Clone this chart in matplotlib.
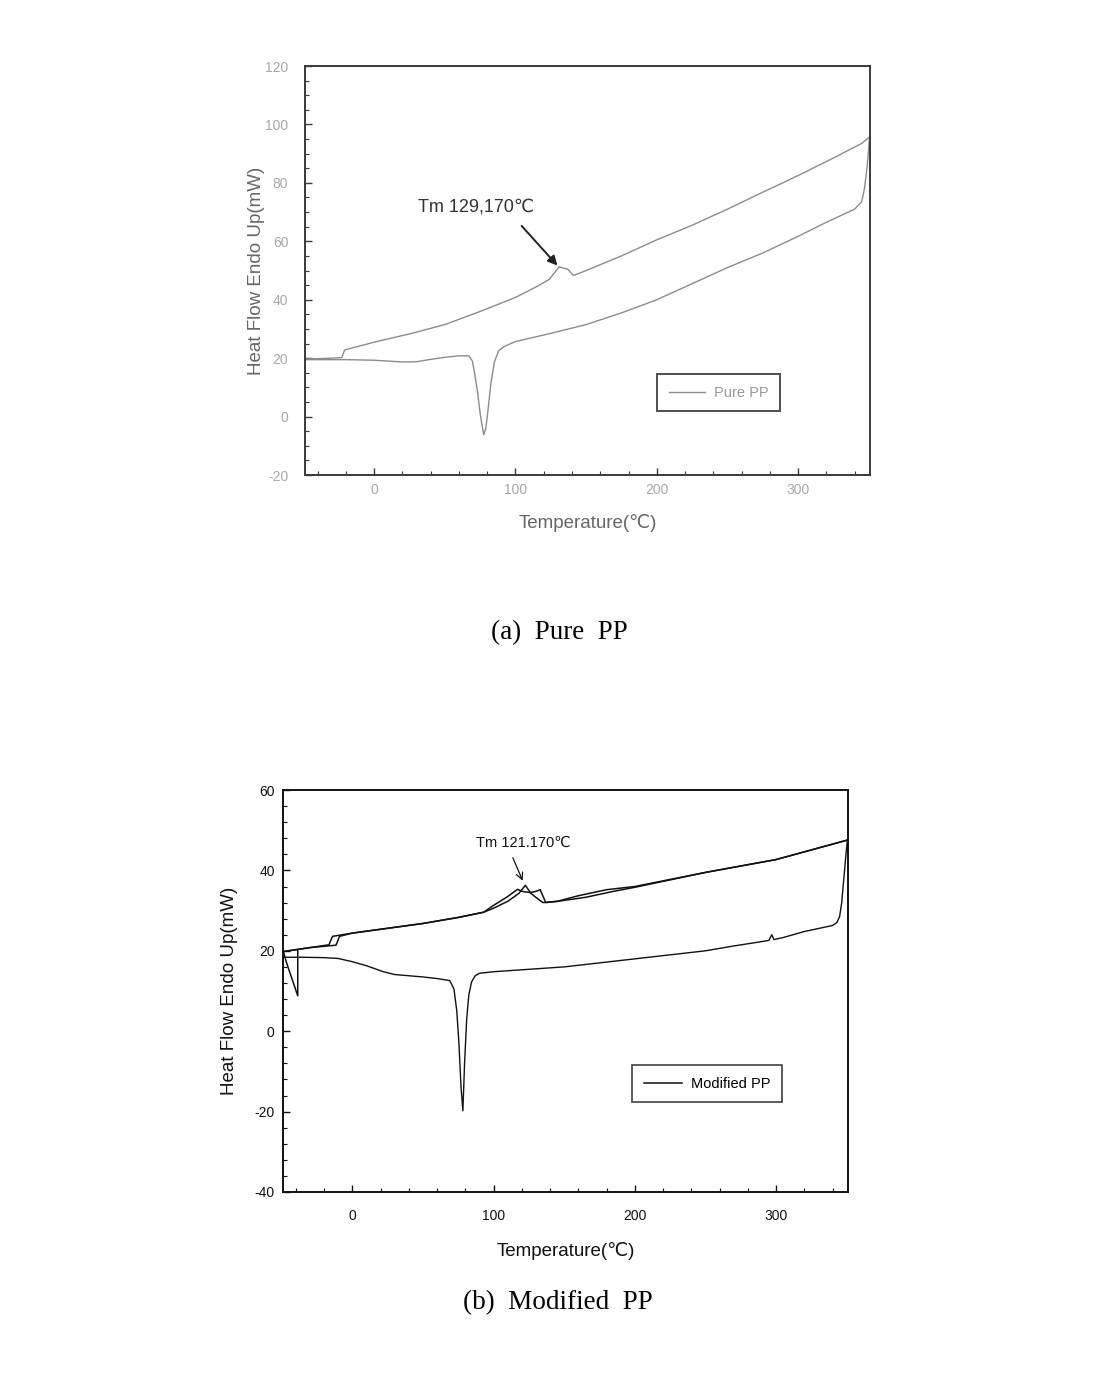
import numpy as np
import matplotlib.pyplot as plt
from matplotlib.ticker import MultipleLocator

plt.rcParams['font.family'] = ['Liberation Sans', 'DejaVu Sans']
plt.rcParams['axes.unicode_minus'] = False

# --- (a) Pure PP ---
pure_heat_T = [-49, -30, -23, -21, 0, 25, 50, 75, 100, 115, 124, 128, 131, 134,
               137, 141, 150, 175, 200, 225, 250, 275, 300, 325, 345, 350]
pure_heat_HF = [19.7, 20.0, 20.2, 22.8, 25.5, 28.3, 31.5, 36.0, 40.8, 44.5, 47.0,
                49.5, 51.3, 50.8, 50.5, 48.3, 50.0, 55.0, 60.5, 65.5, 71.0, 76.8,
                82.5, 88.5, 93.5, 95.5]

pure_cool_T = [350.5, 349, 347, 345, 340, 320, 300, 275, 250, 225, 200, 175, 150,
               125, 100, 92, 88, 85, 82.5, 80.5, 79, 77.5, 76.5, 75, 73, 71, 69.5,
               67, 60, 50, 40, 30, 20, 10, 0, -20, -49]
pure_cool_HF = [95, 86, 78, 73.5, 71, 66.5, 61.7, 56, 51, 45.5, 40, 35.5, 31.5,
                28.5, 25.7, 24.0, 22.5, 18.5, 11, 2, -4, -6.2, -3.5, 1, 9, 15, 19,
                20.8, 20.8, 20.3, 19.6, 18.8, 18.7, 19.0, 19.3, 19.5, 19.5]

# --- (b) Modified PP ---
mod_heat_a_T = [-49, -30, -16.5, -14, 0, 25, 50, 75, 93, 100, 110, 117, 120, 126,
                130, 133, 137, 145, 160, 180, 200, 250, 300, 350]
mod_heat_a_HF = [19.8, 20.8, 21.5, 23.6, 24.4, 25.6, 26.8, 28.3, 29.6, 31.3, 33.5,
                 35.3, 34.8, 34.5, 34.8, 35.2, 32.0, 32.3, 33.7, 35.2, 36.0, 39.5,
                 42.7, 47.5]
mod_heat_b_T = [-49, -30, -11.5, -9, 0, 25, 50, 75, 93, 100, 110, 118, 122.5,
                126.5, 130, 135, 145, 165, 185, 200, 250, 300, 350]
mod_heat_b_HF = [19.8, 20.8, 21.4, 23.6, 24.4, 25.6, 26.8, 28.3, 29.6, 30.6, 32.3,
                 34.3, 36.3, 34.3, 33.3, 32.0, 32.3, 33.3, 34.8, 35.8, 39.5, 42.7,
                 47.5]
mod_start_T = [-38.6, -38.6, -46.5, -48.5, -49]
mod_start_HF = [20.2, 8.8, 17.0, 19.5, 20.0]

mod_cool_T = [350.5, 349.5, 348, 346.5, 345, 343, 340, 320, 305, 298.5, 297, 295,
              290, 270, 250, 225, 200, 175, 150, 125, 100, 90, 87, 84.5, 82.5, 81,
              79.5, 78.3, 77, 75.5, 74, 72, 69, 60, 50, 40, 30, 22, 10, 0, -10,
              -20, -35, -49]
mod_cool_HF = [47.5, 44, 38, 32, 28.5, 27, 26.3, 24.8, 23.3, 22.8, 24.0, 22.6,
               22.3, 21.2, 20.0, 19.0, 18.0, 17.0, 16.0, 15.4, 14.8, 14.4, 13.8,
               12.3, 9, 3, -8, -19.8, -14, -3, 5, 10.5, 12.6, 13.1, 13.5, 13.8,
               14.1, 14.8, 16.3, 17.3, 18.1, 18.3, 18.4, 18.4]

fig = plt.figure(figsize=(11.07, 13.87), dpi=100)


def style_axes(ax, ylim, ymajor, yminor, tick_color, frame_color, xpad, ypad):
    ax.set_xlim(-49, 351)
    ax.set_ylim(*ylim)
    ax.xaxis.set_major_locator(MultipleLocator(100))
    ax.xaxis.set_minor_locator(MultipleLocator(20))
    ax.yaxis.set_major_locator(MultipleLocator(ymajor))
    ax.yaxis.set_minor_locator(MultipleLocator(yminor))
    ax.tick_params(which='both', direction='in', top=False, right=False,
                   colors=frame_color, labelcolor=tick_color, labelsize=10)
    ax.tick_params(which='major', length=5, width=1.0)
    ax.tick_params(which='minor', length=3, width=0.8)
    ax.tick_params(axis='x', pad=xpad)
    ax.tick_params(axis='y', pad=ypad)
    for s in ax.spines.values():
        s.set_color(frame_color)
        s.set_linewidth(1.4)


# top panel
ax1 = fig.add_axes([0.2755, 0.6575, 0.5105, 0.2949])
gray = '#8c8c8c'
ax1.plot(pure_heat_T, pure_heat_HF, color=gray, lw=1.0, label='Pure PP')
ax1.plot(pure_cool_T, pure_cool_HF, color=gray, lw=1.0)
style_axes(ax1, (-20, 120), 20, 5, '#a8a8a8', '#3a3a3a', 6, 12)
ax1.set_xlabel('Temperature(\u2103)', fontsize=13.5, color='#666666', labelpad=12)
ax1.set_ylabel('Heat Flow Endo Up(mW)', fontsize=13.5, color='#666666', labelpad=0)
ax1.text(72, 71.6, 'Tm 129,170\u2103', fontsize=13, color='#333333',
         ha='center', va='center')
ax1.annotate('', xy=(131, 51), xytext=(103, 66),
             arrowprops=dict(arrowstyle='-|>', color='#222222', lw=1.4,
                             mutation_scale=14))
leg1 = ax1.legend(loc='upper left', bbox_to_anchor=(0.623, 0.247), frameon=True,
                  fancybox=False, edgecolor='#222222', fontsize=10.5,
                  handlelength=2.5, handletextpad=0.6, borderpad=0.8,
                  borderaxespad=0)
leg1.get_frame().set_linewidth(1.4)
for t in leg1.get_texts():
    t.set_color('#999999')

# bottom panel
ax2 = fig.add_axes([0.2557, 0.1406, 0.5104, 0.2898])
blk = '#111111'
ax2.plot(mod_heat_a_T, mod_heat_a_HF, color=blk, lw=1.1, label='Modified PP')
ax2.plot(mod_heat_b_T, mod_heat_b_HF, color=blk, lw=1.1)
ax2.plot(mod_start_T, mod_start_HF, color=blk, lw=1.1)
ax2.plot(mod_cool_T, mod_cool_HF, color=blk, lw=1.0)
style_axes(ax2, (-40, 60), 20, 4, '#111111', '#111111', 12, 6)
ax2.set_xlabel('Temperature(\u2103)', fontsize=13.5, color='#111111', labelpad=14)
ax2.set_ylabel('Heat Flow Endo Up(mW)', fontsize=13.5, color='#111111', labelpad=12)
ax2.text(121.4, 46.8, 'Tm 121.170\u2103', fontsize=10.5, color='#111111',
         ha='center', va='center')
ax2.annotate('', xy=(121.4, 36.8), xytext=(112.9, 43.8),
             arrowprops=dict(arrowstyle='->', color='#111111', lw=0.9,
                             mutation_scale=12))
leg2 = ax2.legend(loc='upper left', bbox_to_anchor=(0.618, 0.316), frameon=True,
                  fancybox=False, edgecolor='#111111', fontsize=10.5,
                  handlelength=2.6, handletextpad=0.6, borderpad=0.8,
                  borderaxespad=0)
leg2.get_frame().set_linewidth(1.2)

# captions
fig.text(0.505, 0.5436, '(a)  Pure  PP', fontsize=19.5, ha='center', va='center',
         family=['Liberation Serif', 'DejaVu Serif'])
fig.text(0.504, 0.0606, '(b)  Modified  PP', fontsize=19.5, ha='center', va='center',
         family=['Liberation Serif', 'DejaVu Serif'])

fig.savefig('out.png', dpi=100, facecolor='white')
